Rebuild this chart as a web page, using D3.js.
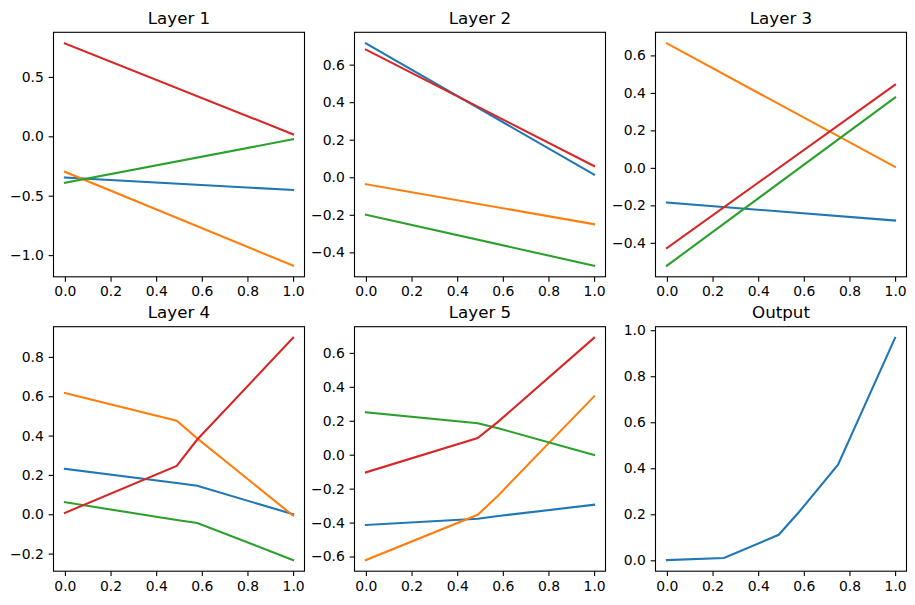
<!DOCTYPE html>
<html>
<head>
<meta charset="utf-8">
<script src="https://cdn.jsdelivr.net/npm/d3@7"></script>
<style>
  body { margin: 0; background: #fff; }
  svg { display: block; font-family: "DejaVu Sans", sans-serif; }
</style>
</head>
<body>
<svg width="915" height="605"></svg>
<script>
// x positions sampled per layer
const xLinear = [0, 1];
const xBent = [0, 0.49, 0.58, 1];
const xOutput = [0, 0.25, 0.49, 0.58, 0.75, 1];

// series values (blue, orange, green, red)
const layer1 = [[-0.346, -0.452], [-0.299, -1.089], [-0.391, -0.025], [0.782, 0.017]];
const layer2 = [[0.713, 0.014], [-0.037, -0.250], [-0.200, -0.471], [0.680, 0.060]];
const layer3 = [[-0.185, -0.281], [0.664, 0.005], [-0.522, 0.375], [-0.428, 0.444]];
const layer4 = [
  [0.231, 0.159, 0.145, 0.000],
  [0.617, 0.476, 0.386, -0.007],
  [0.061, -0.029, -0.044, -0.233],
  [0.007, 0.246, 0.380, 0.897]
];
const layer5 = [
  [-0.414, -0.377, -0.361, -0.295],
  [-0.621, -0.354, -0.240, 0.344],
  [0.250, 0.186, 0.156, -0.002],
  [-0.104, 0.098, 0.195, 0.689]
];
const output = [[0.001, 0.010, 0.111, 0.211, 0.416, 0.967]];

const titles = ['Layer 1', 'Layer 2', 'Layer 3', 'Layer 4', 'Layer 5', 'Output'];

// tick labels
const xTicks = [0, 0.2, 0.4, 0.6, 0.8, 1.0];
const yTicks1 = [-1.0, -0.5, 0.0, 0.5];
const yTicks2 = [-0.4, -0.2, 0.0, 0.2, 0.4, 0.6];
const yTicks3 = [-0.4, -0.2, 0.0, 0.2, 0.4, 0.6];
const yTicks4 = [-0.2, 0.0, 0.2, 0.4, 0.6, 0.8];
const yTicks5 = [-0.6, -0.4, -0.2, 0.0, 0.2, 0.4, 0.6];
const yTicks6 = [0.0, 0.2, 0.4, 0.6, 0.8, 1.0];

const colors = ['#1f77b4', '#ff7f0e', '#2ca02c', '#d62728'];

const panels = [
  { xs: xLinear, series: layer1, yTicks: yTicks1 },
  { xs: xLinear, series: layer2, yTicks: yTicks2 },
  { xs: xLinear, series: layer3, yTicks: yTicks3 },
  { xs: xBent, series: layer4, yTicks: yTicks4 },
  { xs: xBent, series: layer5, yTicks: yTicks5 },
  { xs: xOutput, series: output, yTicks: yTicks6 }
];

const svg = d3.select('svg');
const colLeft = [53.5, 354.5, 655.5];
const rowTop = [32.3, 326.7];
const w = 251, h = 244.5;
const tick = 4.86;

panels.forEach((p, i) => {
  const g = svg.append('g')
    .attr('transform', `translate(${colLeft[i % 3]},${rowTop[Math.floor(i / 3)]})`);

  const all = p.series.flat();
  const [lo, hi] = d3.extent(all);
  const pad = (hi - lo) * 0.05;

  const x = d3.scaleLinear().domain([-0.05, 1.05]).range([0, w]);
  const y = d3.scaleLinear().domain([lo - pad, hi + pad]).range([h, 0]);

  const line = d3.line()
    .x((d, k) => x(p.xs[k]))
    .y(d => y(d));

  g.selectAll('path.series')
    .data(p.series)
    .enter().append('path')
      .attr('class', 'series')
      .attr('d', line)
      .attr('fill', 'none')
      .attr('stroke', (d, k) => colors[k])
      .attr('stroke-width', 2.08)
      .attr('stroke-linecap', 'square');

  const xAxis = g.append('g')
    .attr('transform', `translate(0,${h})`)
    .call(d3.axisBottom(x).tickValues(xTicks).tickFormat(d3.format('.1f'))
      .tickSizeInner(tick).tickSizeOuter(0).tickPadding(tick));
  const yAxis = g.append('g')
    .call(d3.axisLeft(y).tickValues(p.yTicks).tickFormat(d3.format('.1f'))
      .tickSizeInner(tick).tickSizeOuter(0).tickPadding(tick));

  [xAxis, yAxis].forEach(a => {
    a.select('.domain').remove();
    a.selectAll('line').attr('stroke', '#000').attr('stroke-width', 1.1);
    a.selectAll('text')
      .attr('font-family', '"DejaVu Sans", sans-serif')
      .attr('font-size', 13.9)
      .attr('fill', '#000');
  });

  g.append('rect')
    .attr('width', w)
    .attr('height', h)
    .attr('fill', 'none')
    .attr('stroke', '#000')
    .attr('stroke-width', 1.1);

  g.append('text')
    .attr('x', w / 2)
    .attr('y', -8.3)
    .attr('text-anchor', 'middle')
    .attr('font-size', 16.7)
    .attr('fill', '#000')
    .text(titles[i]);
});
</script>
</body>
</html>
